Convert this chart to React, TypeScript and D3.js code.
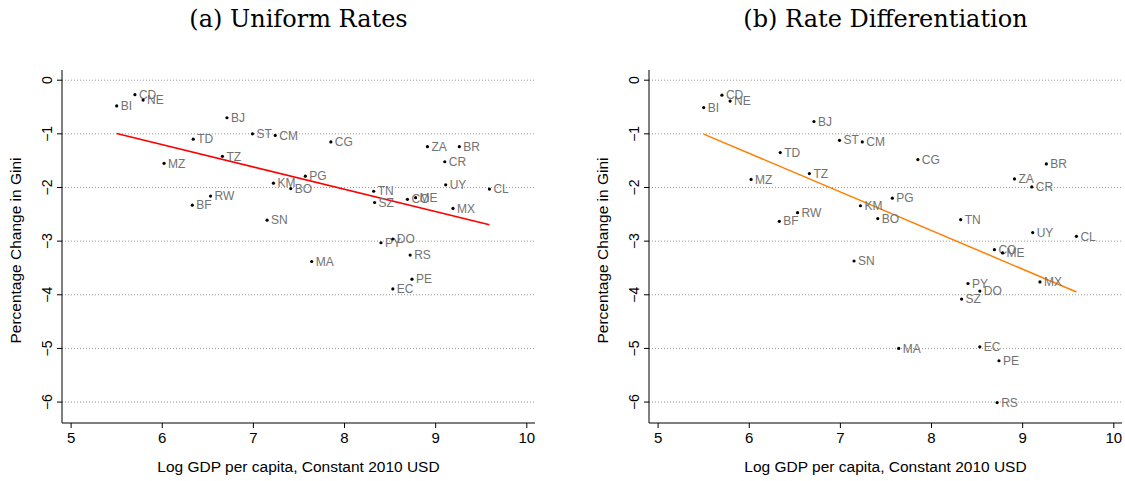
import * as d3 from "d3";

const countries = ["BI", "CD", "NE", "BJ", "ST", "CM", "TD", "TZ", "MZ", "KM", "BO", "RW", "BF", "SN", "PG", "CG",
  "ZA", "BR", "CR", "UY", "CL", "TN", "SZ", "CO", "ME", "MX", "PY", "DO", "MA", "RS", "PE", "EC"];

const logGdp = [5.50, 5.70, 5.79, 6.71, 6.99, 7.24, 6.34, 6.66, 6.02, 7.22, 7.41, 6.53, 6.33, 7.15, 7.57, 7.85,
  8.91, 9.26, 9.10, 9.11, 9.59, 8.32, 8.33, 8.69, 8.78, 9.19, 8.40, 8.53, 7.64, 8.72, 8.74, 8.53];

const uniformChange = [-0.48, -0.27, -0.37, -0.70, -1.00, -1.03, -1.10, -1.42, -1.55, -1.92, -2.02, -2.16, -2.33, -2.61, -1.79, -1.15,
  -1.24, -1.24, -1.52, -1.95, -2.03, -2.07, -2.28, -2.22, -2.19, -2.39, -3.03, -2.96, -3.38, -3.26, -3.71, -3.89];

const differentiatedChange = [-0.51, -0.28, -0.39, -0.77, -1.12, -1.15, -1.35, -1.74, -1.85, -2.34, -2.58, -2.47, -2.63, -3.37, -2.20, -1.48,
  -1.84, -1.56, -1.99, -2.84, -2.91, -2.60, -4.08, -3.16, -3.22, -3.76, -3.79, -3.93, -5.00, -6.01, -5.23, -4.97];

const xTicks = [5, 6, 7, 8, 9, 10];
const yTicks = [0, -1, -2, -3, -4, -5, -6];

const sans = "'Liberation Sans', Arial, sans-serif";

type PanelProps = {
  title: string;
  values: number[];
  lineColor: string;
  left: number;
};

const Panel = ({ title, values, lineColor, left }: PanelProps) => {
  const x = d3.scaleLinear().domain([4.9, 10.09]).range([left, left + 473]);
  const y = d3.scaleLinear().domain([0.19, -6.39]).range([70, 423]);

  // OLS fit over the data
  const xm = d3.mean(logGdp)!;
  const ym = d3.mean(values)!;
  const sxy = d3.sum(logGdp, (v, i) => (v - xm) * (values[i] - ym));
  const sxx = d3.sum(logGdp, (v) => (v - xm) ** 2);
  const slope = sxy / sxx;
  const [x0, x1] = d3.extent(logGdp) as [number, number];
  const fit = d3.line<number>().x((d) => x(d)).y((d) => y(ym + slope * (d - xm)));

  const cx = (x(4.9) + x(10.09)) / 2;

  return (
    <g>
      <text x={cx} y={27} textAnchor="middle" fontFamily="'DejaVu Serif', 'Liberation Serif', serif" fontSize={24}>
        {title}
      </text>
      {yTicks.map((t) => (
        <g key={t}>
          <line x1={x(4.9)} x2={x(10.09)} y1={y(t)} y2={y(t)} stroke="#999" strokeDasharray="1 2" strokeWidth={1} />
          <line x1={x(4.9) - 5} x2={x(4.9)} y1={y(t)} y2={y(t)} stroke="#000" />
          <text
            transform={`translate(${x(4.9) - 10},${y(t)}) rotate(-90)`}
            textAnchor="middle"
            fontFamily={sans}
            fontSize={14}
          >
            {t === 0 ? "0" : `\u2212${-t}`}
          </text>
        </g>
      ))}
      <line x1={x(4.9)} x2={x(4.9)} y1={y(0.19)} y2={y(-6.39)} stroke="#000" />
      <line x1={x(4.9)} x2={x(10.09)} y1={y(-6.39)} y2={y(-6.39)} stroke="#000" />
      {xTicks.map((t) => (
        <g key={t}>
          <line x1={x(t)} x2={x(t)} y1={y(-6.39)} y2={y(-6.39) + 5} stroke="#000" />
          <text x={x(t)} y={y(-6.39) + 20} textAnchor="middle" fontFamily={sans} fontSize={15}>
            {t}
          </text>
        </g>
      ))}
      <text x={cx} y={472} textAnchor="middle" fontFamily={sans} fontSize={15.5}>
        Log GDP per capita, Constant 2010 USD
      </text>
      <text
        transform={`translate(${x(4.9) - 41},${(y(0.19) + y(-6.39)) / 2 + 4}) rotate(-90)`}
        textAnchor="middle"
        fontFamily={sans}
        fontSize={15.5}
      >
        Percentage Change in Gini
      </text>
      <path d={fit([x0, x1]) || ""} stroke={lineColor} strokeWidth={1.5} fill="none" />
      {countries.map((c, i) => (
        <g key={c}>
          <circle cx={x(logGdp[i])} cy={y(values[i])} r={1.6} fill="#000" />
          <text
            x={x(logGdp[i]) + 4}
            y={y(values[i])}
            dy="0.35em"
            fontFamily={sans}
            fontSize={12}
            fill="#727272"
          >
            {c}
          </text>
        </g>
      ))}
    </g>
  );
};

export default function App() {
  return (
    <svg width={1125} height={481} style={{ position: "absolute", left: 0, top: 0, background: "#fff" }}>
      <Panel title="(a) Uniform Rates" values={uniformChange} lineColor="#ff0000" left={62} />
      <Panel title="(b) Rate Differentiation" values={differentiatedChange} lineColor="#ff8000" left={649} />
    </svg>
  );
}
